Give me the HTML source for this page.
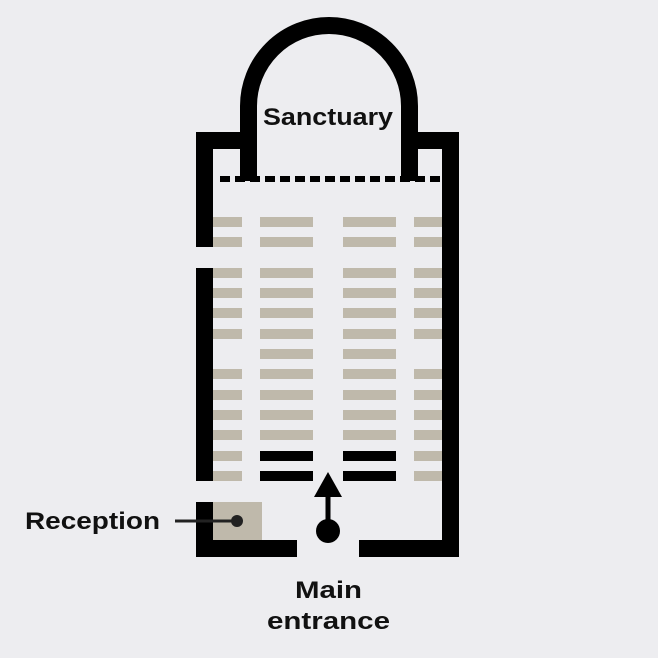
<!DOCTYPE html>
<html><head><style>
html,body{margin:0;padding:0;background:#ededf0;}
svg{display:block}
text{font-family:"Liberation Sans",sans-serif;font-weight:bold;fill:#111}
</style></head><body>
<svg width="658" height="658" viewBox="0 0 658 658" xmlns="http://www.w3.org/2000/svg">
<rect width="658" height="658" fill="#ededf0"/>
<path d="M248.5 181 V106 A80.5 80.5 0 0 1 409.5 106 V181" fill="none" stroke="#000" stroke-width="17"/>
<rect x="196" y="132" width="61" height="17" fill="#000"/>
<rect x="401" y="132" width="58" height="17" fill="#000"/>
<rect x="196" y="132" width="17" height="115" fill="#000"/>
<rect x="196" y="268" width="17" height="213" fill="#000"/>
<rect x="196" y="502" width="17" height="55" fill="#000"/>
<rect x="442" y="132" width="17" height="425" fill="#000"/>
<rect x="196" y="540" width="101" height="17" fill="#000"/>
<rect x="359" y="540" width="100" height="17" fill="#000"/>
<line x1="220" y1="179" x2="440" y2="179" stroke="#000" stroke-width="6" stroke-dasharray="10 5"/>
<g fill="#bfb9ab">
<rect x="213" y="217" width="29" height="10"/><rect x="213" y="237" width="29" height="10"/>
<rect x="213" y="268" width="29" height="10"/><rect x="213" y="288" width="29" height="10"/>
<rect x="213" y="308" width="29" height="10"/><rect x="213" y="329" width="29" height="10"/>
<rect x="213" y="369" width="29" height="10"/><rect x="213" y="390" width="29" height="10"/>
<rect x="213" y="410" width="29" height="10"/><rect x="213" y="430" width="29" height="10"/>
<rect x="213" y="451" width="29" height="10"/><rect x="213" y="471" width="29" height="10"/>
<rect x="414" y="217" width="28" height="10"/><rect x="414" y="237" width="28" height="10"/>
<rect x="414" y="268" width="28" height="10"/><rect x="414" y="288" width="28" height="10"/>
<rect x="414" y="308" width="28" height="10"/><rect x="414" y="329" width="28" height="10"/>
<rect x="414" y="369" width="28" height="10"/><rect x="414" y="390" width="28" height="10"/>
<rect x="414" y="410" width="28" height="10"/><rect x="414" y="430" width="28" height="10"/>
<rect x="414" y="451" width="28" height="10"/><rect x="414" y="471" width="28" height="10"/>
<rect x="260" y="217" width="53" height="10"/><rect x="343" y="217" width="53" height="10"/>
<rect x="260" y="237" width="53" height="10"/><rect x="343" y="237" width="53" height="10"/>
<rect x="260" y="268" width="53" height="10"/><rect x="343" y="268" width="53" height="10"/>
<rect x="260" y="288" width="53" height="10"/><rect x="343" y="288" width="53" height="10"/>
<rect x="260" y="308" width="53" height="10"/><rect x="343" y="308" width="53" height="10"/>
<rect x="260" y="329" width="53" height="10"/><rect x="343" y="329" width="53" height="10"/>
<rect x="260" y="349" width="53" height="10"/><rect x="343" y="349" width="53" height="10"/>
<rect x="260" y="369" width="53" height="10"/><rect x="343" y="369" width="53" height="10"/>
<rect x="260" y="390" width="53" height="10"/><rect x="343" y="390" width="53" height="10"/>
<rect x="260" y="410" width="53" height="10"/><rect x="343" y="410" width="53" height="10"/>
<rect x="260" y="430" width="53" height="10"/><rect x="343" y="430" width="53" height="10"/>
</g>
<g fill="#000">
<rect x="260" y="451" width="53" height="10"/><rect x="343" y="451" width="53" height="10"/>
<rect x="260" y="471" width="53" height="10"/><rect x="343" y="471" width="53" height="10"/>
</g>
<rect x="213" y="502" width="49" height="38" fill="#bfb9ab"/>
<line x1="175" y1="521" x2="237" y2="521" stroke="#222" stroke-width="3"/>
<circle cx="237" cy="521" r="6" fill="#222"/>
<circle cx="328" cy="531" r="12" fill="#000"/>
<line x1="328" y1="531" x2="328" y2="494" stroke="#000" stroke-width="5"/>
<polygon points="328,472 314,497 342,497" fill="#000"/>
<text x="263" y="125" font-size="24" textLength="130" lengthAdjust="spacingAndGlyphs">Sanctuary</text>
<text x="25" y="529" font-size="24" textLength="135" lengthAdjust="spacingAndGlyphs">Reception</text>
<text x="295" y="598" font-size="24" textLength="67" lengthAdjust="spacingAndGlyphs">Main</text>
<text x="267" y="629" font-size="24" textLength="123" lengthAdjust="spacingAndGlyphs">entrance</text>
</svg>
</body></html>
